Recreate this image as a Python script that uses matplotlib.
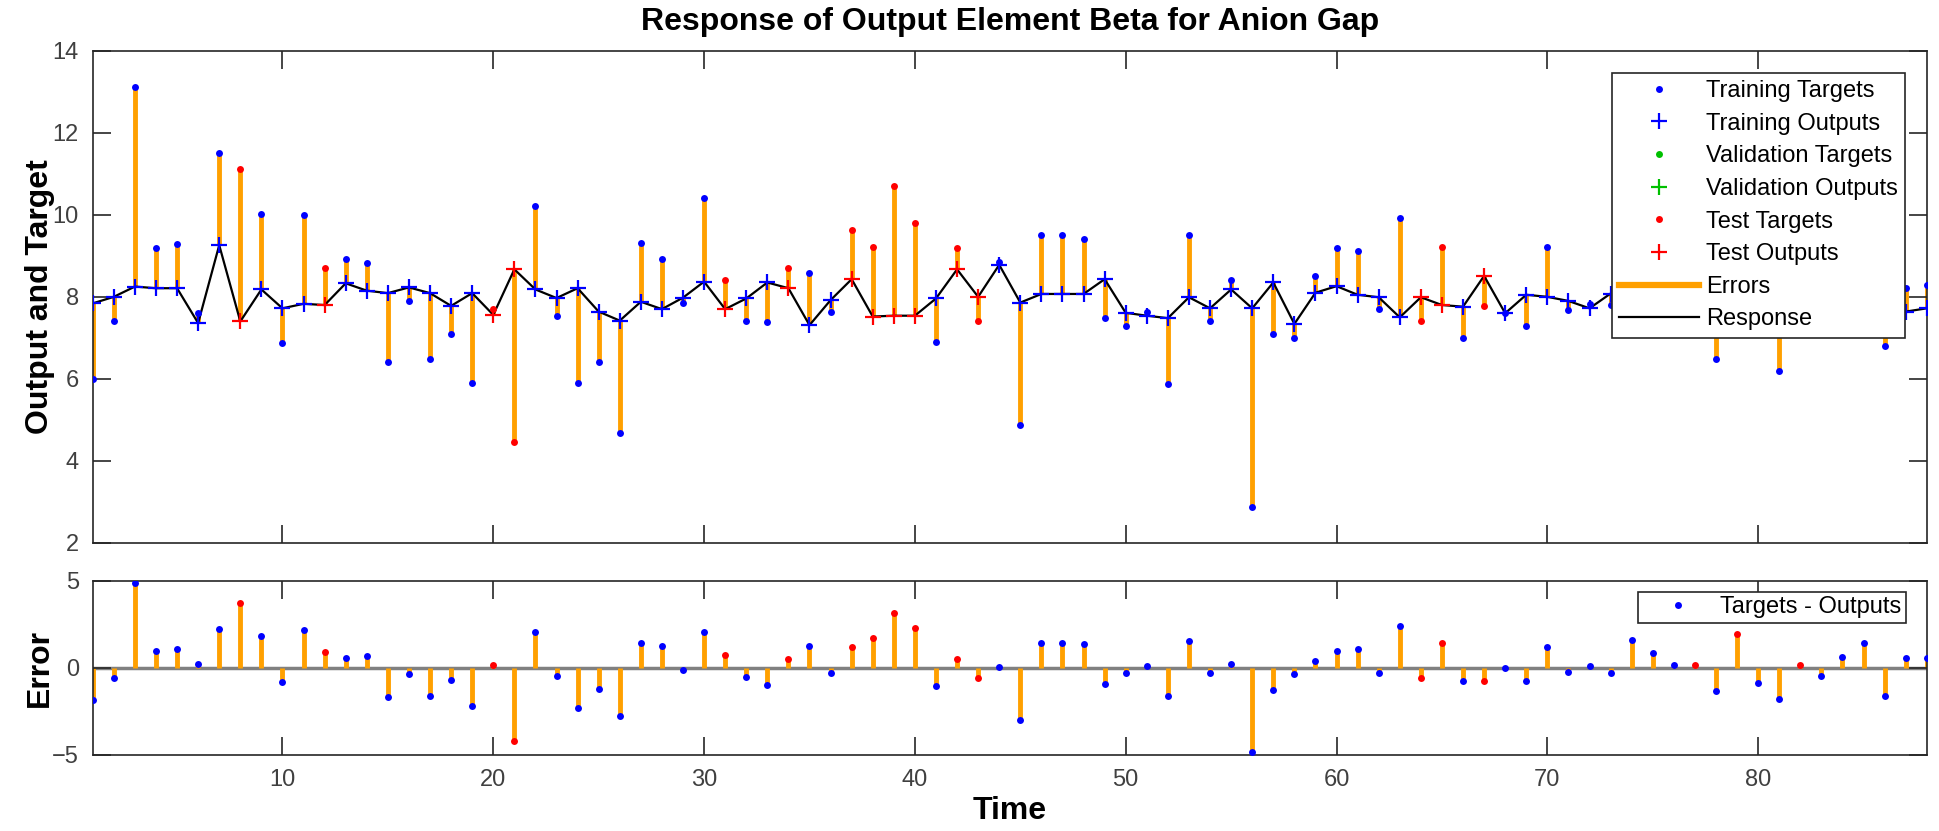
import matplotlib
matplotlib.use("Agg")
import matplotlib.pyplot as plt
from matplotlib.lines import Line2D
import numpy as np

plt.rcParams['font.family'] = ['Liberation Sans', 'DejaVu Sans']

# network response per time step
time = np.arange(1, 89)
outputs = [7.84, 8.00, 8.25, 8.21, 8.21, 7.36, 9.26, 7.40, 8.18, 7.72,
           7.83, 7.80, 8.33, 8.15, 8.09, 8.23, 8.09, 7.78, 8.09, 7.56,
           8.67, 8.18, 7.97, 8.21, 7.64, 7.42, 7.88, 7.70, 7.98, 8.37,
           7.70, 7.96, 8.35, 8.21, 7.31, 7.92, 8.43, 7.52, 7.54, 7.54,
           7.96, 8.67, 8.00, 8.78, 7.86, 8.07, 8.07, 8.07, 8.43, 7.61,
           7.54, 7.48, 7.99, 7.72, 8.18, 7.72, 8.35, 7.34, 8.10, 8.26,
           8.05, 7.99, 7.50, 7.99, 7.80, 7.76, 8.51, 7.60, 8.05, 8.00,
           7.90, 7.72, 8.08, 8.00, 8.10, 7.90, 8.00, 7.83, 7.95, 8.10,
           7.99, 7.85, 8.15, 7.90, 8.05, 8.38, 7.64, 7.72]
targets = [6.00, 7.40, 13.12, 9.20, 9.30, 7.60, 11.51, 11.11, 10.02, 6.88,
           10.00, 8.70, 8.92, 8.82, 6.40, 7.90, 6.49, 7.09, 5.89, 7.70,
           4.47, 10.22, 7.53, 5.89, 6.40, 4.68, 9.31, 8.93, 7.85, 10.41,
           8.42, 7.41, 7.38, 8.71, 8.59, 7.62, 9.62, 9.21, 10.70, 9.81,
           6.89, 9.20, 7.41, 8.84, 4.87, 9.51, 9.51, 9.42, 7.49, 7.30,
           7.64, 5.88, 9.51, 7.40, 8.40, 2.88, 7.10, 7.00, 8.52, 9.20,
           9.11, 7.70, 9.92, 7.40, 9.22, 7.00, 7.78, 7.60, 7.29, 9.21,
           7.68, 7.83, 7.81, 9.59, 8.96, 8.09, 8.17, 6.49, 9.92, 7.22,
           6.19, 8.00, 7.69, 8.55, 9.45, 6.79, 8.21, 8.30]
test_steps = [8, 12, 20, 21, 31, 34, 37, 38, 39, 40, 42, 43, 64, 65, 67, 77, 79, 82]

outputs = np.array(outputs)
targets = np.array(targets)
errors = targets - outputs
is_test = np.isin(time, test_steps)
is_train = ~is_test

ORANGE = '#ffa000'
AXC = '#262626'
TICKC = '#404040'

fig = plt.figure(figsize=(19.4, 8.31), dpi=100)
ax1 = fig.add_axes([0.0478, 0.3466, 0.9454, 0.5924])
ax2 = fig.add_axes([0.0478, 0.0915, 0.9454, 0.2097])

dot = dict(ls='none', marker='o', ms=5, mew=0)
plus = dict(ls='none', marker='+', ms=11, mew=1.6)

# top: targets, outputs and errors
ax1.vlines(time, outputs, targets, colors=ORANGE, lw=3.5, zorder=1)
ax1.plot(time, outputs, color='black', lw=1.6, zorder=2)
ax1.plot(time[is_train], targets[is_train], color='blue', zorder=3, **dot)
ax1.plot(time[is_train], outputs[is_train], color='blue', zorder=3, **plus)
ax1.plot(time[is_test], targets[is_test], color='red', zorder=3, **dot)
ax1.plot(time[is_test], outputs[is_test], color='red', zorder=3, **plus)

handles = [
    Line2D([], [], color='blue', **dot),
    Line2D([], [], color='blue', **plus),
    Line2D([], [], color='#00c000', **dot),
    Line2D([], [], color='#00c000', **plus),
    Line2D([], [], color='red', **dot),
    Line2D([], [], color='red', **plus),
    Line2D([], [], color=ORANGE, lw=4.5),
    Line2D([], [], color='black', lw=1.6),
]
labels = ['Training Targets', 'Training Outputs', 'Validation Targets',
          'Validation Outputs', 'Test Targets', 'Test Outputs', 'Errors', 'Response']
leg1 = ax1.legend(handles, labels, loc='upper right', bbox_to_anchor=(0.9882, 0.9547),
                  borderaxespad=0, fontsize=17, fancybox=False, framealpha=1,
                  edgecolor=AXC, handlelength=3.4, handletextpad=0.3,
                  labelspacing=0.45, borderpad=0.3)
leg1.get_frame().set_linewidth(1.2)

ax1.set_xlim(1, 88)
ax1.set_ylim(2, 14)
ax1.set_yticks(range(2, 15, 2))
ax1.set_xticks(range(10, 81, 10))
ax1.tick_params(labelbottom=False)
ax1.set_ylabel('Output and Target', fontsize=23, fontweight='bold')
ax1.set_title('Response of Output Element Beta for Anion Gap',
              fontsize=23, fontweight='bold', pad=15)

# bottom: error stems
ax2.axhline(0, color='#808080', lw=2.5, zorder=0)
ax2.vlines(time, 0, errors, colors=ORANGE, lw=3.5, zorder=1)
ax2.plot(time[is_train], errors[is_train], color='blue', zorder=3, **dot)
ax2.plot(time[is_test], errors[is_test], color='red', zorder=3, **dot)

leg2 = ax2.legend([Line2D([], [], color='blue', **dot)], ['Targets - Outputs'],
                  loc='upper right', bbox_to_anchor=(0.9884, 0.937), borderaxespad=0,
                  fontsize=17, fancybox=False, framealpha=1, edgecolor=AXC,
                  handlelength=2.95, handletextpad=0.3, borderpad=0.2)
leg2.get_frame().set_linewidth(1.2)

ax2.set_xlim(1, 88)
ax2.set_ylim(-5, 5)
ax2.set_yticks([-5, 0, 5])
ax2.set_xticks(range(10, 81, 10))
ax2.set_ylabel('Error', fontsize=23, fontweight='bold')
ax2.set_xlabel('Time', fontsize=23, fontweight='bold', labelpad=4)

for ax in (ax1, ax2):
    for sp in ax.spines.values():
        sp.set_color(AXC)
        sp.set_linewidth(1.2)
    ax.tick_params(direction='in', length=13, width=1.2, color=AXC,
                   top=True, right=True, labelsize=17, labelcolor=TICKC, pad=10)
    ax.yaxis.set_label_coords(-0.0206, 0.5)

fig.savefig('out.png', dpi=100)
